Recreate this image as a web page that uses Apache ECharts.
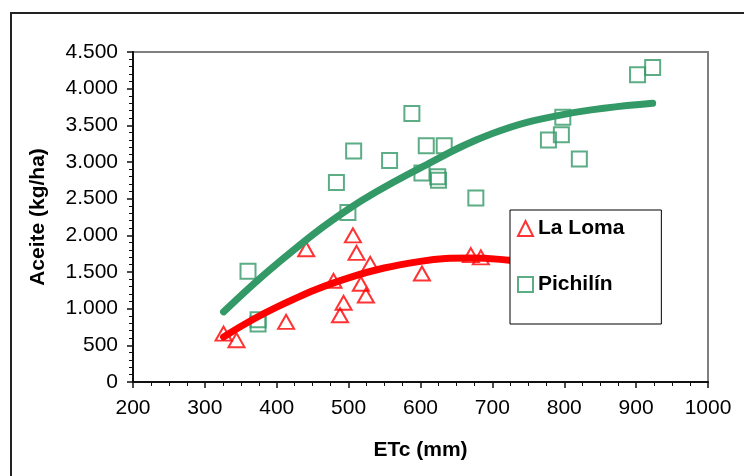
<!DOCTYPE html>
<html>
<head>
<meta charset="utf-8">
<script src="https://cdn.jsdelivr.net/npm/echarts@6/dist/echarts.min.js"></script>
<style>
html,body{margin:0;padding:0;background:#fff;}
#chart{width:744px;height:476px;}
</style>
</head>
<body>
<div id="chart"></div>
<script>
// La Loma (triangulos)
var laLomaX = [326, 344, 413, 441, 479, 488, 493, 506, 511, 517, 524, 530, 602, 670, 684];
var laLomaY = [660, 570, 820, 1810, 1380, 910, 1080, 2000, 1760, 1340, 1180, 1610, 1480, 1730, 1700];
// Pichilin (cuadrados)
var pichilinX = [360, 374, 374, 483, 499, 507, 557, 588, 602, 608, 624, 625, 633, 677, 778, 796, 798, 821, 902, 923];
var pichilinY = [1510, 850, 790, 2720, 2310, 3150, 3020, 3660, 2850, 3220, 2800, 2750, 3220, 2510, 3300, 3370, 3610, 3040, 4190, 4290];
// lineas de tendencia
var laLomaTrendX = [326, 400, 500, 600, 670, 760];
var laLomaTrendY = [615, 1020, 1420, 1645, 1690, 1615];
var pichilinTrendX = [326, 400, 500, 600, 700, 800, 923];
var pichilinTrendY = [956, 1610, 2359, 2920, 3388, 3650, 3800];

var xTicks = [200, 1000, 100];
var yTicks = [0, 4500, 500];

function pairs(xs, ys) {
	var out = [];
	for (var i = 0; i < xs.length; i++) {
		out.push([xs[i], ys[i]]);
	}
	return out;
}

var myChart = echarts.init(document.getElementById('chart'));
var fontFam = 'Liberation Sans, Arial, sans-serif';

myChart.setOption({
	animation: false,
	backgroundColor: '#fff',
	graphic: [{
		type: 'rect',
		shape: { x: 11, y: 13, width: 800, height: 500 },
		style: { fill: 'none', stroke: '#222', lineWidth: 2 },
		z: 0
	}],
	grid: {
		left: 133,
		right: 36,
		top: 52,
		bottom: 94,
		show: true,
		borderColor: '#808080',
		borderWidth: 2,
		backgroundColor: 'transparent'
	},
	legend: {
		orient: 'vertical',
		left: 510,
		top: 210,
		data: ['La Loma', 'Pichilín'],
		selectedMode: false,
		itemWidth: 15,
		itemHeight: 15,
		itemGap: 35,
		padding: [8, 37, 29, 7],
		backgroundColor: '#fff',
		borderColor: '#000',
		borderWidth: 1,
		textStyle: {
			fontFamily: fontFam,
			fontWeight: 'bold',
			fontSize: 21,
			color: '#000'
		},
		z: 10
	},
	xAxis: {
		type: 'value',
		min: xTicks[0],
		max: xTicks[1],
		interval: xTicks[2],
		name: 'ETc (mm)',
		nameLocation: 'middle',
		nameGap: 58,
		nameTextStyle: { fontFamily: fontFam, fontWeight: 'bold', fontSize: 21, color: '#000' },
		axisLine: { show: true, onZero: false, lineStyle: { color: '#111', width: 2 } },
		axisTick: { show: true, length: 6, lineStyle: { color: '#111', width: 1.5 } },
		minorTick: { show: true, splitNumber: 4, length: 4, lineStyle: { color: '#111', width: 1 } },
		splitLine: { show: false },
		axisLabel: {
			fontFamily: fontFam,
			fontSize: 21,
			color: '#000',
			margin: 16,
			formatter: function (v) {
				return String(v);
			}
		}
	},
	yAxis: {
		type: 'value',
		min: yTicks[0],
		max: yTicks[1],
		interval: yTicks[2],
		name: 'Aceite (kg/ha)',
		nameLocation: 'middle',
		nameGap: 84,
		nameTextStyle: { fontFamily: fontFam, fontWeight: 'bold', fontSize: 21, color: '#000' },
		axisLine: { show: true, onZero: false, lineStyle: { color: '#111', width: 2 } },
		axisTick: { show: true, length: 6, lineStyle: { color: '#111', width: 1.5 } },
		minorTick: { show: true, splitNumber: 5, length: 4, lineStyle: { color: '#111', width: 1 } },
		splitLine: { show: false },
		axisLabel: {
			fontFamily: fontFam,
			fontSize: 21,
			color: '#000',
			margin: 15,
			formatter: function (v) {
				return String(v).replace(/\B(?=(\d{3})+(?!\d))/g, '.');
			}
		}
	},
	series: [{
		name: 'La Loma',
		type: 'scatter',
		symbol: 'triangle',
		symbolSize: [16, 14],
		itemStyle: { color: 'rgba(255,255,255,0)', borderColor: '#ff0000', borderWidth: 2 },
		data: pairs(laLomaX, laLomaY),
		z: 3
	}, {
		name: 'Pichilín',
		type: 'scatter',
		symbol: 'rect',
		symbolSize: 15,
		itemStyle: { color: 'rgba(255,255,255,0)', borderColor: '#339966', borderWidth: 2 },
		data: pairs(pichilinX, pichilinY),
		z: 3
	}, {
		name: 'tendLaLoma',
		type: 'line',
		smooth: 0.4,
		showSymbol: false,
		lineStyle: { color: '#ff0000', width: 7, cap: 'round' },
		data: pairs(laLomaTrendX, laLomaTrendY),
		z: 4
	}, {
		name: 'tendPichilin',
		type: 'line',
		smooth: 0.4,
		showSymbol: false,
		lineStyle: { color: '#339966', width: 7, cap: 'round' },
		data: pairs(pichilinTrendX, pichilinTrendY),
		z: 4
	}]
});
</script>
</body>
</html>
